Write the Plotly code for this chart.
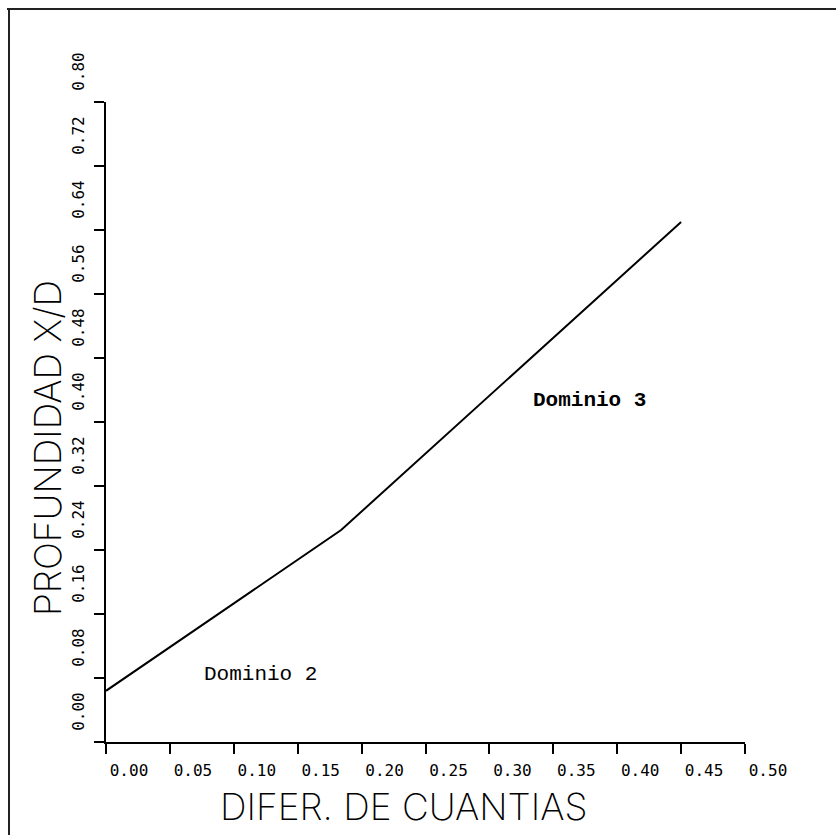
import plotly.graph_objects as go

# Data
dif_cuantias = [0.0, 0.184, 0.45]
profundidad = [0.064, 0.265, 0.65]

x_ticks = [0.00, 0.05, 0.10, 0.15, 0.20, 0.25, 0.30, 0.35, 0.40, 0.45, 0.50]
x_tick_labels = ["0.00", "0.05", "0.10", "0.15", "0.20", "0.25", "0.30", "0.35", "0.40", "0.45", "0.50"]
y_ticks = [0.00, 0.08, 0.16, 0.24, 0.32, 0.40, 0.48, 0.56, 0.64, 0.72, 0.80]
y_tick_labels = ["0.00", "0.08", "0.16", "0.24", "0.32", "0.40", "0.48", "0.56", "0.64", "0.72", "0.80"]

x_title = "DIFER. DE CUANTIAS"
y_title = "PROFUNDIDAD X/D"
region_labels = ["Dominio 2", "Dominio 3"]
region_x = [0.121, 0.378]
region_y = [0.084, 0.4275]

W, H = 836, 835
ML, MR, MT, MB = 106, 91, 102, 93

fig = go.Figure()
fig.add_trace(go.Scatter(x=dif_cuantias, y=profundidad, mode="lines",
                         line=dict(color="black", width=2), showlegend=False,
                         hoverinfo="skip"))

tick_font = dict(family="DejaVu Sans Mono", size=16, color="black")
title_font = dict(family="Inter", size=37, color="black", weight=200)

fig.update_layout(
    width=W, height=H,
    margin=dict(l=ML, r=MR, t=MT, b=MB),
    paper_bgcolor="white", plot_bgcolor="white",
    xaxis=dict(range=[0, 0.5], tickvals=x_ticks, ticktext=x_tick_labels,
               showline=True, linecolor="black", linewidth=1.5,
               ticks="outside", ticklen=10, tickwidth=1.5, tickcolor="black",
               showgrid=False, zeroline=False, tickfont=tick_font,
               ticklabelshift=23, ticklabelstandoff=3),
    yaxis=dict(range=[0, 0.8], tickvals=y_ticks, ticktext=y_tick_labels,
               showline=True, linecolor="black", linewidth=1.5,
               ticks="outside", ticklen=10, tickwidth=1.5, tickcolor="black",
               showgrid=False, zeroline=False, tickfont=tick_font,
               tickangle=-90, ticklabelshift=-28, ticklabelstandoff=4),
)

pw = W - ML - MR
ph = H - MT - MB

def px_x(p):
    return (p - ML) / pw

def px_y(p):
    return (H - MB - p) / ph

# Axis titles
fig.add_annotation(text=x_title, xref="paper", yref="paper",
                   x=px_x(403.5), y=px_y(806), showarrow=False,
                   xanchor="center", yanchor="middle", font=title_font)
fig.add_annotation(text=y_title, xref="paper", yref="paper",
                   x=px_x(47), y=px_y(448), showarrow=False, textangle=-90,
                   xanchor="center", yanchor="middle", font=title_font)

# Region labels
fig.add_annotation(text=region_labels[0], x=region_x[0], y=region_y[0],
                   showarrow=False, xanchor="center", yanchor="middle",
                   font=dict(family="Liberation Mono", size=21, color="black"))
fig.add_annotation(text="<b>" + region_labels[1] + "</b>", x=region_x[1], y=region_y[1],
                   showarrow=False, xanchor="center", yanchor="middle",
                   font=dict(family="Liberation Mono", size=21, color="black"))

# Scan frame (top and left edges)
fig.add_shape(type="line", xref="paper", yref="paper",
              x0=px_x(7), x1=px_x(836), y0=px_y(9), y1=px_y(9),
              line=dict(color="#222", width=2))
fig.add_shape(type="line", xref="paper", yref="paper",
              x0=px_x(9), x1=px_x(9), y0=px_y(9), y1=px_y(835),
              line=dict(color="#222", width=2))

fig.write_html("out.html")
